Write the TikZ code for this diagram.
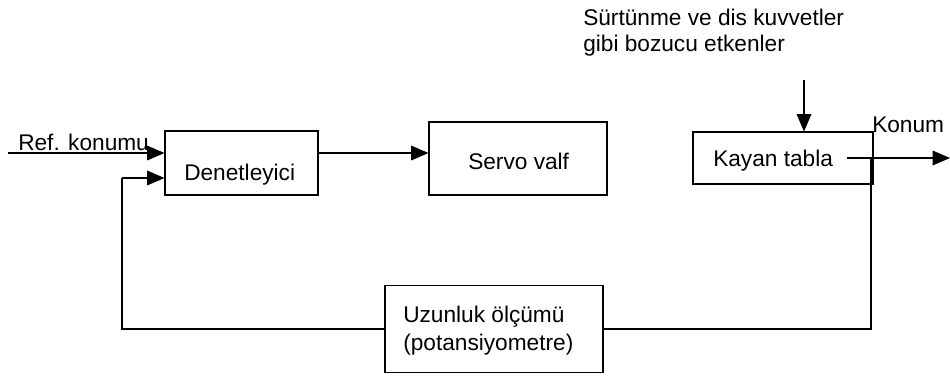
\documentclass[tikz,border=0pt]{standalone}
\usepackage{fontspec}
\setmainfont{Liberation Sans}
\usetikzlibrary{positioning,arrows.meta}

\tikzset{
  box/.style={draw, line width=0.8pt, inner sep=0pt},
  txt/.style={inner sep=0pt, anchor=base west, font=\fontsize{17}{21}\selectfont},
  arr/.style={-{Triangle[length=13pt,width=11pt]}, line width=0.8pt},
  wire/.style={line width=0.8pt}
}

\begin{document}
\begin{tikzpicture}[x=0.75pt, y=-0.75pt]
\useasboundingbox (0,0) rectangle (950,376);
% BLOCKS
\node[box, minimum width=114.75pt, minimum height=48pt] (ctrl) at (241.5,163) {};
\node[box, minimum width=133.5pt, minimum height=54.75pt] (servo) at (518,158.5) {};
\node[box, minimum width=135pt, minimum height=39pt] (table) at (783,158) {};
\node[box, minimum width=163.5pt, minimum height=65.25pt] (meas) at (494,329) {};
% TEXTS
\node[txt] (ctrltxt) at (184,180) {Denetleyici};
\node[txt] (servotxt) at (468,169) {Servo valf};
\node[txt] (tabletxt) at (713,166) {Kayan tabla};
\node[txt] (meastxt) at (403,322) {Uzunluk ölçümü};
\node[txt] (meastxtb) at (403,350) {(potansiyometre)};
\node[txt] (reftxt) at (18,150) {Ref. konumu};
\node[txt] (outtxt) at (872,132) {Konum};
\node[txt] (disttxt) at (583,25) {Sürtünme ve dis kuvvetler};
\node[txt] (disttxtb) at (583,51) {gibi bozucu etkenler};
% SIGNALS
\coordinate (refin) at (8,153);
\coordinate (dist) at (804,80);
\coordinate (outstart) at (847,158);
\coordinate (out) at (950,158);
\coordinate (fbtop) at (871,158);
\coordinate (fbleft) at (122,178);
\draw[arr] (refin) -- (refin -| ctrl.west);
\draw[arr] (ctrl.east |- refin) -- (servo.west |- refin);
\draw[arr] (dist) -- (dist |- table.north);
\draw[arr] (outstart) -- (out);
% FEEDBACK
\draw[wire] (fbtop) |- (meas.east);
\draw[wire] (meas.west) -| (fbleft);
\draw[arr] (fbleft) -- (fbleft -| ctrl.west);
\end{tikzpicture}
\end{document}
